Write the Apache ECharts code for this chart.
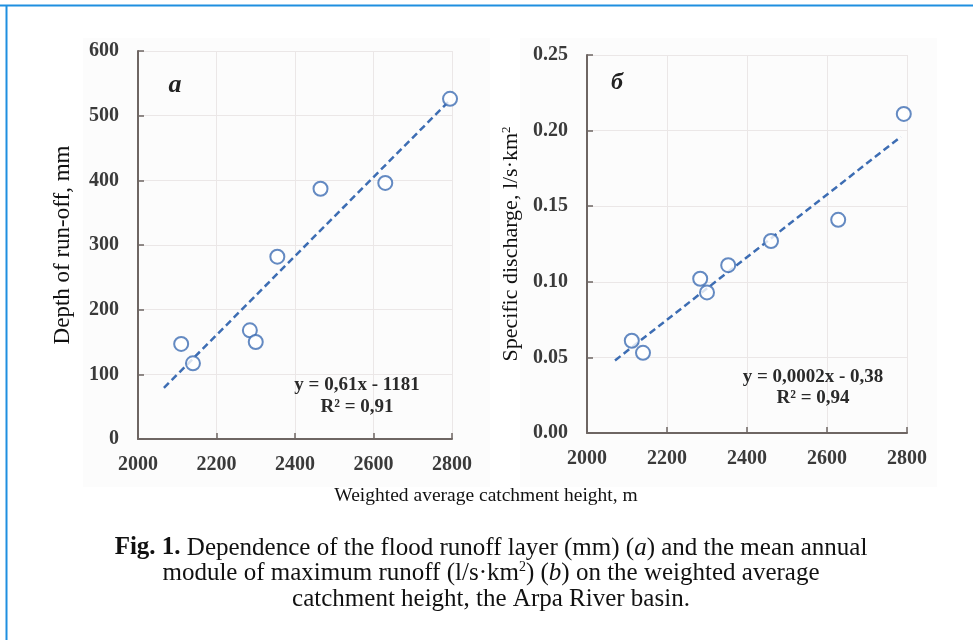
<!DOCTYPE html>
<html>
<head>
<meta charset="utf-8">
<script src="https://cdn.jsdelivr.net/npm/echarts@6/dist/echarts.min.js"></script>
<style>
html,body{margin:0;padding:0;background:#fff;}
#chart{width:973px;height:640px;}
</style>
</head>
<body>
<div id="chart"></div>
<script>
// ---- data ----
const heightsA = [2110, 2140, 2285, 2300, 2355, 2465, 2630, 2795];
const runoffDepth = [147, 117, 168, 150, 282, 387, 396, 526];
const heightsB = [2112, 2140, 2283, 2300, 2353, 2460, 2628, 2792];
const specDischarge = [0.061, 0.053, 0.102, 0.093, 0.111, 0.127, 0.141, 0.211];
const trendAX = [2066, 2790];
const trendAY = [79, 521];
const trendBX = [2070, 2785];
const trendBY = [0.048, 0.196];
const xTicks = [2000, 2200, 2400, 2600, 2800];
const yTicksA = [0, 100, 200, 300, 400, 500, 600];
const yTicksB = [0, 0.05, 0.10, 0.15, 0.20, 0.25];
const eqA = ['y = 0,61x - 1181', 'R² = 0,91'];
const eqB = ['y = 0,0002x - 0,38', 'R² = 0,94'];
const captionLines = [
  '{b|Fig. 1.} Dependence of the flood runoff layer (mm) ({i|a}) and the mean annual',
  'module of maximum runoff (l/s·km{s|2}) ({i|b}) on the weighted average',
  'catchment height, the Arpa River basin.'
];

const pairs = (xs, ys) => xs.map((x, i) => [x, ys[i]]);

const SERIF = '"Liberation Serif", "DejaVu Serif", serif';
const axisCol = '#6e6663';
const gridCol = '#ebe7e7';
const blue = '#3d6db3';

function xAxisCfg(gi) {
  return {
    type: 'value', gridIndex: gi,
    min: xTicks[0], max: xTicks[xTicks.length - 1], interval: xTicks[1] - xTicks[0],
    axisLine: {show: true, onZero: false, lineStyle: {color: axisCol, width: 2}},
    axisTick: {show: true, inside: true, length: 6, lineStyle: {color: axisCol, width: 1.5}},
    axisLabel: {color: '#3a3a3a', fontFamily: SERIF, fontWeight: 'bold', fontSize: 20, margin: 16,
      formatter: v => String(v)},
    splitLine: {show: true, lineStyle: {color: gridCol, width: 1}}
  };
}
function yAxisCfg(gi, ticks, name, dec, nameSize, nameRich) {
  return {
    type: 'value', gridIndex: gi,
    min: ticks[0], max: ticks[ticks.length - 1], interval: ticks[1] - ticks[0],
    name: name, nameLocation: 'middle', nameGap: 64, nameRotate: 90,
    nameTextStyle: Object.assign({color: '#111', fontFamily: SERIF, fontSize: nameSize}, nameRich ? {rich: nameRich} : {}),
    axisLine: {show: true, onZero: false, lineStyle: {color: axisCol, width: 2}},
    axisTick: {show: true, inside: true, length: 6, lineStyle: {color: axisCol, width: 1.5}},
    axisLabel: {color: '#3a3a3a', fontFamily: SERIF, fontWeight: 'bold', fontSize: 20, margin: 19,
      formatter: v => v.toFixed(dec)},
    splitLine: {show: true, lineStyle: {color: gridCol, width: 1}}
  };
}

const chart = echarts.init(document.getElementById('chart'), null, {renderer: 'canvas'});

const eqStyle = {fill: '#2a2a2a', font: 'bold 19px ' + SERIF, textAlign: 'center', textVerticalAlign: 'middle'};
const capRich = {
  b: {fontFamily: SERIF, fontWeight: 'bold', fontSize: 25, fill: '#111'},
  i: {fontFamily: SERIF, fontStyle: 'italic', fontSize: 25, fill: '#111'},
  s: {fontFamily: SERIF, fontSize: 14, fill: '#111', verticalAlign: 'top', padding: [0, 0, 11, 0]}
};
const capY = [548, 573, 599];

chart.setOption({
  animation: false,
  backgroundColor: '#fff',
  grid: [
    {left: 138, top: 51, width: 314, height: 388},
    {left: 587, top: 55, width: 320, height: 378}
  ],
  xAxis: [xAxisCfg(0), xAxisCfg(1)],
  yAxis: [
    yAxisCfg(0, yTicksA, 'Depth of run-off, mm', 0, 23),
    yAxisCfg(1, yTicksB, '{t|Specific discharge, l/s·km}{s|2}', 2, 22, {
      t: {fontFamily: SERIF, fontSize: 22, color: '#111'},
      s: {fontFamily: SERIF, fontSize: 13, color: '#111', verticalAlign: 'top', padding: [0, 0, 10, 0]}
    })
  ],
  series: [
    {type: 'line', xAxisIndex: 0, yAxisIndex: 0, data: pairs(trendAX, trendAY), symbol: 'none',
      lineStyle: {color: blue, width: 2.5, type: [7, 4]}, z: 2},
    {type: 'scatter', xAxisIndex: 0, yAxisIndex: 0, data: pairs(heightsA, runoffDepth), symbol: 'emptyCircle',
      symbolSize: 14, itemStyle: {color: blue, borderColor: blue, borderWidth: 1.8}, z: 3},
    {type: 'line', xAxisIndex: 1, yAxisIndex: 1, data: pairs(trendBX, trendBY), symbol: 'none',
      lineStyle: {color: blue, width: 2.5, type: [7, 4]}, z: 2},
    {type: 'scatter', xAxisIndex: 1, yAxisIndex: 1, data: pairs(heightsB, specDischarge), symbol: 'emptyCircle',
      symbolSize: 14, itemStyle: {color: blue, borderColor: blue, borderWidth: 1.8}, z: 3}
  ],
  graphic: [
    {type: 'rect', shape: {x: 83, y: 38, width: 407, height: 449}, style: {fill: '#fcfcfc'}, z: -10, silent: true},
    {type: 'rect', shape: {x: 520, y: 38, width: 417, height: 449}, style: {fill: '#fcfcfc'}, z: -10, silent: true},
    {type: 'line', shape: {x1: 0, y1: 5.5, x2: 973, y2: 5.5}, style: {stroke: '#1f8fe0', lineWidth: 2}, z: 10},
    {type: 'line', shape: {x1: 6.5, y1: 5, x2: 6.5, y2: 640}, style: {stroke: '#1f8fe0', lineWidth: 2}, z: 10},
    {type: 'text', x: 175, y: 85, style: {text: 'a', fill: '#222', font: 'italic bold 26px ' + SERIF, textAlign: 'center', textVerticalAlign: 'middle'}, z: 10},
    {type: 'text', x: 617, y: 83, style: {text: 'б', fill: '#222', font: 'italic bold 24px ' + SERIF, textAlign: 'center', textVerticalAlign: 'middle'}, z: 10},
    {type: 'text', x: 357, y: 385, style: Object.assign({text: eqA[0]}, eqStyle), z: 10},
    {type: 'text', x: 357, y: 407, style: Object.assign({text: eqA[1]}, eqStyle), z: 10},
    {type: 'text', x: 813, y: 377, style: Object.assign({text: eqB[0]}, eqStyle), z: 10},
    {type: 'text', x: 813, y: 398, style: Object.assign({text: eqB[1]}, eqStyle), z: 10},
    {type: 'text', x: 486, y: 496, style: {text: 'Weighted average catchment height, m', fill: '#111', font: '19.5px ' + SERIF, textAlign: 'center', textVerticalAlign: 'middle'}, z: 10}
  ].concat(captionLines.map((t, k) => ({
    type: 'text', x: 491, y: capY[k],
    style: {text: t, rich: capRich, fill: '#111', font: '25px ' + SERIF, align: 'center', verticalAlign: 'middle'}, z: 10
  })))
});
</script>
</body>
</html>
